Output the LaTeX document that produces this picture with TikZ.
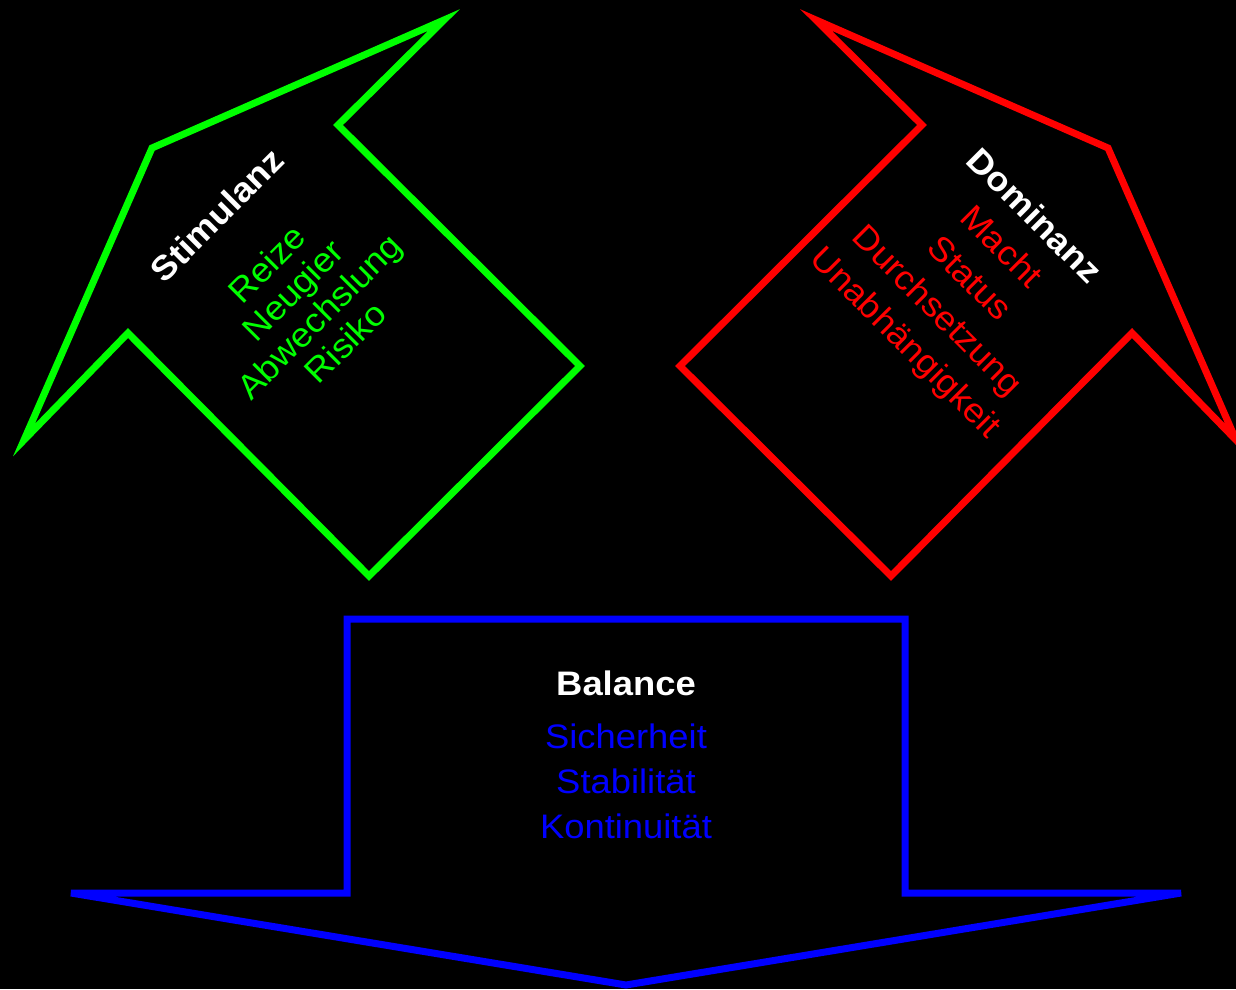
\documentclass[tikz,border=0pt]{standalone}
\usepackage{fontspec}
\setmainfont{Liberation Sans}[FakeStretch=1.07]
\begin{document}
\begin{tikzpicture}[x=1pt,y=-1pt,
  outline/.style={line width=7pt},
  title/.style={text=white, inner sep=0pt, font=\fontsize{34}{40}\selectfont\bfseries},
  itemsgreen/.style={text=green, inner sep=0pt, align=center, font=\fontsize{34}{37}\selectfont},
  itemsred/.style={text=red, inner sep=0pt, align=center, font=\fontsize{34}{45}\selectfont},
  itemblue/.style={text=blue, inner sep=0pt, font=\fontsize{34}{45}\selectfont}]
\fill[black] (0,0) rectangle (1236,989);
\useasboundingbox (0,0) rectangle (1236,989);
% green arrow
\draw[outline, green] (128,333) -- (369,576) -- (580,366) -- (338,125) -- (444,20) -- (152,148) -- (24,440) -- cycle;
% red arrow (mirror)
\draw[outline, red] (1132,333) -- (891,576) -- (680,366) -- (922,125) -- (816,20) -- (1108,148) -- (1236,440) -- cycle;
% blue arrow
\draw[outline, blue] (71,893) -- (347,893) -- (347,619) -- (905,619) -- (905,893) -- (1181,893) -- (626,985) -- cycle;
% texts
\node[title, rotate=45] (stim) at (217,215) {Stimulanz};
\node[itemsgreen, rotate=45] (stimitems) at (306,303) {Reize\\Neugier\\Abwechslung\\Risiko};
\node[title, rotate=-45] (dom) at (1035,215) {Dominanz};
\node[itemsred, rotate=-45] (domitems) at (952,296) {Macht\\Status\\Durchsetzung\\Unabhängigkeit};
\node[title, anchor=base] (bal) at (626,695) {Balance};
\node[itemblue, anchor=base] (b1) at (626,748) {Sicherheit};
\node[itemblue, anchor=base] (b2) at (626,793) {Stabilität};
\node[itemblue, anchor=base] (b3) at (626,838) {Kontinuität};
\end{tikzpicture}
\end{document}
